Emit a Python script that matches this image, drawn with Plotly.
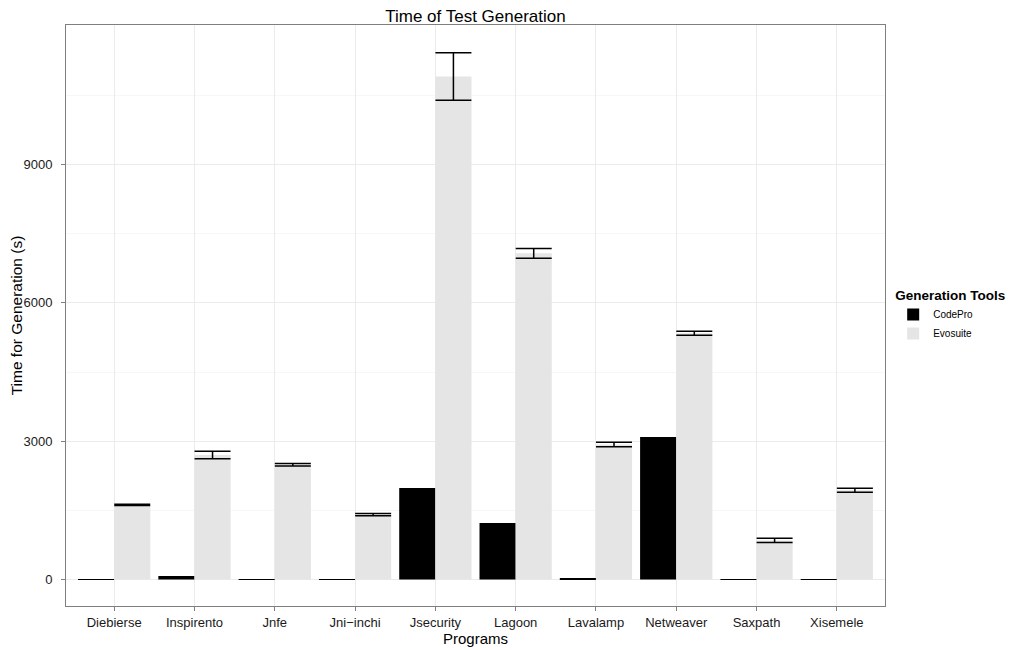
import plotly.graph_objects as go

programs = ["Diebierse", "Inspirento", "Jnfe", "Jni\u2212inchi", "Jsecurity",
            "Lagoon", "Lavalamp", "Netweaver", "Saxpath", "Xisemele"]
codepro_time = [5, 80, 5, 5, 1986, 1228, 37, 3091, 5, 5]
evosuite_time = [1620, 2700, 2490, 1408, 10905, 7072, 2930, 5340, 850, 1938]
evosuite_err = [12, 80, 25, 25, 516, 108, 48, 43, 48, 42]

font_family = "Liberation Sans, Arial, sans-serif"

# the page body adds an 8px offset, compensated in the margins
fig = go.Figure()
fig.add_trace(go.Bar(
    x=programs, y=codepro_time, name="CodePro",
    marker=dict(color="#000000", line=dict(width=0)),
))
fig.add_trace(go.Bar(
    x=programs, y=evosuite_time, name="Evosuite",
    marker=dict(color="#e5e5e5", line=dict(width=0)),
    error_y=dict(type="data", array=evosuite_err, visible=True,
                 color="#000000", thickness=1.5, width=18),
))

fig.update_layout(
    width=1016, height=650,
    margin=dict(l=58, r=139, t=17, b=52, autoexpand=False),
    paper_bgcolor="white", plot_bgcolor="white",
    barmode="group", bargap=0.1, bargroupgap=0,
    font=dict(family=font_family, size=12, color="#000000"),
    title=dict(text="Time of Test Generation", x=(475.5 - 8) / 1016, xanchor="center",
               y=1 - 8 / 650, yanchor="middle",
               font=dict(size=17, color="#000000")),
    legend=dict(
        title=dict(text="<b>Generation Tools</b>", font=dict(size=13.5)),
        x=1.01, xanchor="left", y=0.5, yanchor="middle",
        font=dict(size=10), tracegroupgap=0,
        bgcolor="rgba(0,0,0,0)",
    ),
    xaxis=dict(
        type="category", range=[-0.6, 9.6], automargin=False,
        showgrid=True, gridcolor="#ebebeb", gridwidth=1,
        showline=True, mirror=True, linecolor="#7f7f7f", linewidth=1,
        ticks="outside", ticklen=4, tickcolor="#7f7f7f",
        tickfont=dict(size=13, color="#1a1a1a"),
        title=dict(text="Programs", font=dict(size=15), standoff=0),
    ),
    yaxis=dict(
        range=[-572, 12022], automargin=False,
        tickvals=[0, 3000, 6000, 9000],
        showgrid=True, gridcolor="#ebebeb", gridwidth=1,
        minor=dict(tickvals=[1500, 4500, 7500, 10500], showgrid=True,
                   gridcolor="#f7f7f7", gridwidth=1),
        zeroline=False,
        showline=True, mirror=True, linecolor="#7f7f7f", linewidth=1,
        ticks="outside", ticklen=4, tickcolor="#7f7f7f",
        ticklabelstandoff=6,
        tickfont=dict(size=13, color="#1a1a1a"),
        title=dict(text="Time for Generation (s)", font=dict(size=15.5), standoff=4),
    ),
)

fig.write_html("out.html")
